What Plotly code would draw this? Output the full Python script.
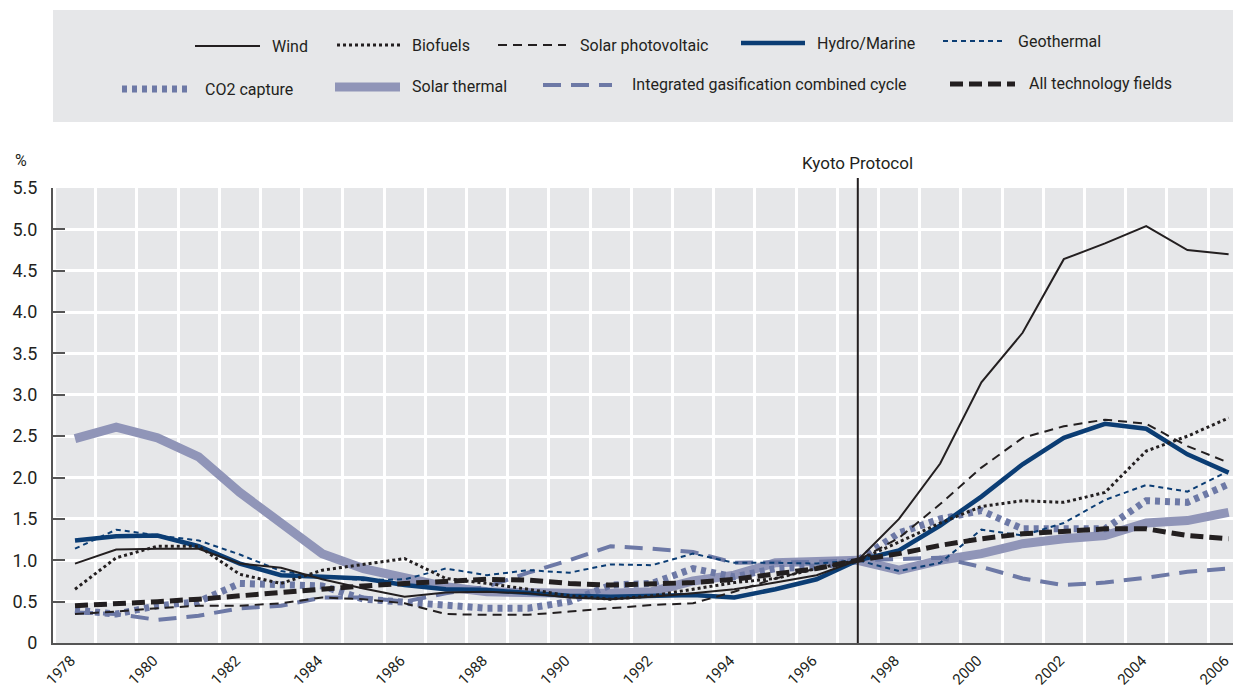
import plotly.graph_objects as go

# years on the x axis
years = list(range(1978, 2007))

# index values, % (1997 = 1.0)
wind = [0.96, 1.13, 1.14, 1.14, 0.96, 0.91, 0.77, 0.66, 0.56, 0.61, 0.62, 0.60, 0.55, 0.53, 0.56,
        0.60, 0.65, 0.73, 0.82, 1.00, 1.50, 2.17, 3.15, 3.75, 4.64, 4.83, 5.04, 4.75, 4.70]
biofuels = [0.65, 1.03, 1.17, 1.17, 0.83, 0.72, 0.88, 0.95, 1.02, 0.78, 0.72, 0.65, 0.57, 0.53, 0.57,
            0.65, 0.73, 0.78, 0.90, 1.00, 1.22, 1.45, 1.65, 1.72, 1.70, 1.82, 2.32, 2.50, 2.72]
solar_pv = [0.35, 0.38, 0.42, 0.45, 0.45, 0.48, 0.55, 0.53, 0.48, 0.35, 0.34, 0.34, 0.38, 0.42, 0.46,
            0.48, 0.62, 0.78, 0.90, 1.00, 1.27, 1.68, 2.12, 2.48, 2.62, 2.70, 2.65, 2.38, 2.18]
hydro = [1.24, 1.29, 1.30, 1.17, 0.96, 0.82, 0.80, 0.78, 0.70, 0.65, 0.64, 0.61, 0.57, 0.56, 0.57,
         0.58, 0.55, 0.65, 0.77, 1.00, 1.12, 1.42, 1.77, 2.16, 2.48, 2.65, 2.59, 2.28, 2.06]
geothermal = [1.14, 1.37, 1.30, 1.24, 1.07, 0.87, 0.80, 0.76, 0.77, 0.90, 0.82, 0.88, 0.85, 0.95, 0.94,
              1.08, 0.97, 0.97, 0.96, 1.00, 0.87, 0.97, 1.37, 1.30, 1.45, 1.73, 1.91, 1.83, 2.08]
co2_capture = [0.40, 0.35, 0.45, 0.50, 0.72, 0.70, 0.69, 0.53, 0.50, 0.45, 0.42, 0.42, 0.50, 0.70, 0.72,
               0.90, 0.80, 0.90, 0.92, 1.00, 1.33, 1.50, 1.60, 1.38, 1.38, 1.38, 1.72, 1.70, 1.92]
solar_thermal = [2.47, 2.61, 2.48, 2.25, 1.82, 1.45, 1.08, 0.90, 0.78, 0.68, 0.62, 0.60, 0.60, 0.60, 0.62,
                 0.75, 0.82, 0.97, 0.99, 1.00, 0.88, 1.00, 1.08, 1.20, 1.26, 1.30, 1.45, 1.48, 1.58]
igcc = [0.37, 0.35, 0.28, 0.33, 0.42, 0.45, 0.55, 0.55, 0.50, 0.60, 0.68, 0.85, 1.00, 1.17, 1.14,
        1.10, 0.97, 0.97, 0.98, 1.00, 1.02, 1.03, 0.92, 0.78, 0.70, 0.73, 0.79, 0.86, 0.90]
all_tech = [0.45, 0.47, 0.50, 0.53, 0.57, 0.61, 0.66, 0.69, 0.72, 0.75, 0.77, 0.76, 0.72, 0.70, 0.72,
            0.73, 0.77, 0.83, 0.90, 1.00, 1.08, 1.18, 1.26, 1.32, 1.35, 1.38, 1.38, 1.30, 1.26]

y_ticks = [0, 0.5, 1, 1.5, 2, 2.5, 3, 3.5, 4, 4.5, 5, 5.5]
y_labels = ["0", "0.5", "1.0", "1.5", "2.0", "2.5", "3.0", "3.5", "4.0", "4.5", "5.0", "5.5"]
x_ticks = list(range(1978, 2007, 2))
kyoto_year = 1997

BLACK = "#231f20"
NAVY = "#0b3d74"
LAV = "#9095b8"
SLATE = "#6d79a6"
FONT = "Roboto, sans-serif"

# name, data, colour, width, dash  (drawn in this order)
series = [
    ("Solar thermal", solar_thermal, LAV, 9, "solid"),
    ("Integrated gasification combined cycle", igcc, SLATE, 4, "18px,10px"),
    ("CO2 capture", co2_capture, SLATE, 7, "5px,5px"),
    ("Geothermal", geothermal, NAVY, 2, "5px,4px"),
    ("Hydro/Marine", hydro, NAVY, 4.5, "solid"),
    ("Solar photovoltaic", solar_pv, BLACK, 2, "9px,6px"),
    ("Biofuels", biofuels, BLACK, 3, "3px,3px"),
    ("Wind", wind, BLACK, 2, "solid"),
    ("All technology fields", all_tech, BLACK, 5, "13px,6px"),
]

fig = go.Figure()
for name, vals, col, w, dash in series:
    fig.add_trace(go.Scatter(x=years, y=vals, name=name, mode="lines",
                             line=dict(color=col, width=w, dash=dash), showlegend=False))

# page has an 8px body margin, so the figure is drawn 8px in from the window edge
OFF = 8
W, H = 1241 - 2 * OFF, 695 - 2 * OFF
ML, MR, MT, MB = 53 - OFF, 0, 188 - OFF, H - (643 - OFF)
PW, PH = W - ML - MR, H - MT - MB
YEAR_PX = 41.2
x_lo = 1978 - (75 - 53) / YEAR_PX
x_hi = x_lo + PW / YEAR_PX


def px(x):
    # window pixel -> paper x
    return (x - OFF - ML) / PW


def py(y):
    # window pixel -> paper y
    return (H + OFF - MB - y) / PH


shapes = []
annotations = []

# legend box
shapes.append(dict(type="rect", xref="paper", yref="paper", x0=px(53), x1=px(1241),
                   y0=py(122), y1=py(10), fillcolor="#e6e7e9", line=dict(width=0), layer="below"))

# Kyoto protocol line
shapes.append(dict(type="line", xref="x", yref="paper", x0=kyoto_year, x1=kyoto_year,
                   y0=0, y1=py(178), line=dict(color=BLACK, width=2)))
annotations.append(dict(x=kyoto_year, y=py(163), xref="x", yref="paper", text="Kyoto Protocol",
                        xanchor="center", yanchor="middle",
                        showarrow=False, font=dict(size=17, color=BLACK, family=FONT)))
annotations.append(dict(x=px(13), y=py(160), xref="paper", yref="paper", text="%",
                        xanchor="left", yanchor="middle",
                        showarrow=False, font=dict(size=16, color=BLACK, family=FONT)))

# hand-built legend: (key x0, key x1, text x, y) in window pixels
legend_pos = {
    "Wind": (195, 260, 270, 46),
    "Biofuels": (337, 400, 410, 45),
    "Solar photovoltaic": (498, 566, 578, 45),
    "Hydro/Marine": (741, 805, 815, 43),
    "Geothermal": (943, 1005, 1016, 41),
    "CO2 capture": (122, 190, 203, 89),
    "Solar thermal": (335, 400, 410, 87),
    "Integrated gasification combined cycle": (543, 612, 630, 85),
    "All technology fields": (950, 1015, 1027, 84),
}
for name, vals, col, w, dash in series:
    k0, k1, tx, ly = legend_pos[name]
    shapes.append(dict(type="line", xref="paper", yref="paper", x0=px(k0), x1=px(k1),
                       y0=py(ly), y1=py(ly), line=dict(color=col, width=w, dash=dash)))
    annotations.append(dict(x=px(tx), y=py(ly), xref="paper", yref="paper", text=name,
                            xanchor="left", yanchor="middle", showarrow=False,
                            font=dict(size=16, color=BLACK, family=FONT)))

fig.update_layout(
    width=W, height=H,
    margin=dict(l=ML, r=MR, t=MT, b=MB, autoexpand=False),
    paper_bgcolor="white",
    plot_bgcolor="#e6e7e9",
    font=dict(family=FONT, color=BLACK, size=16),
    shapes=shapes,
    annotations=annotations,
    xaxis=dict(
        range=[x_lo, x_hi],
        automargin=False,
        tickvals=x_ticks,
        ticktext=[str(t) for t in x_ticks],
        tickangle=-45,
        ticks="",
        ticklabeloverflow="allow",
        ticklabelstandoff=1,
        ticklabelshift=-4,
        showgrid=False,
        showline=True, linecolor="#555555", linewidth=2,
        tickfont=dict(size=15),
        minor=dict(tickvals=[y + 0.5 for y in range(1977, 2006)], showgrid=True,
                   gridcolor="white", gridwidth=3, ticks=""),
        zeroline=False,
    ),
    yaxis=dict(
        range=[0, 5.5],
        automargin=False,
        tickvals=y_ticks,
        ticktext=y_labels,
        ticks="inside", ticklen=12, tickcolor="#555555", tickwidth=1.5,
        ticklabelstandoff=10,
        showgrid=True, gridcolor="white", gridwidth=3,
        showline=True, linecolor="#555555", linewidth=2,
        zeroline=False,
        tickfont=dict(size=18),
    ),
)

fig.write_html("out.html")
